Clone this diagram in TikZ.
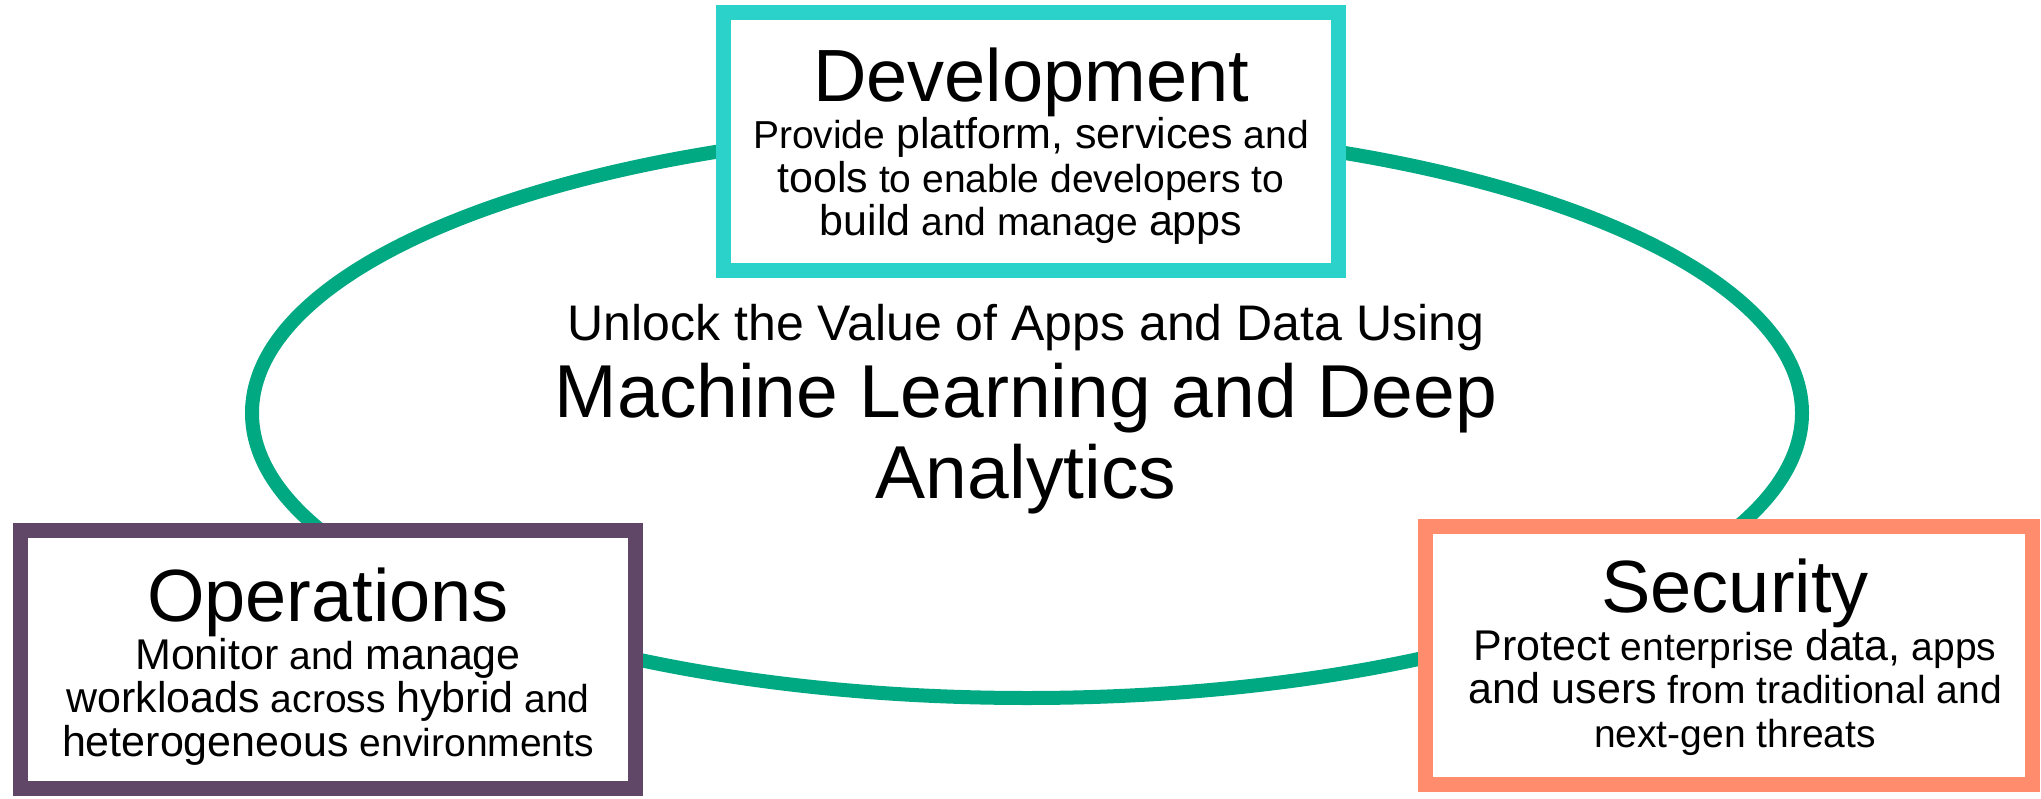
\documentclass[tikz,border=0pt]{standalone}
\usepackage{fontspec}
\setmainfont{Liberation Sans}
\usetikzlibrary{positioning}

\definecolor{ringcol}{HTML}{01A982}
\definecolor{devcol}{HTML}{2AD2C9}
\definecolor{opscol}{HTML}{614767}
\definecolor{seccol}{HTML}{FF8D6D}

\newcommand{\keyw}[1]{{\fontsize{43}{43.5}\selectfont #1}}

\tikzset{
	ring/.style={draw=ringcol, line width=14pt},
	stage/.style={draw, line width=15pt, fill=white, inner sep=0pt, minimum width=615pt, minimum height=258pt},
	headline/.style={font=\fontsize{74}{80}\selectfont, anchor=base, inner sep=0pt},
	blurb/.style={font=\fontsize{39}{43.5}\selectfont, align=center, anchor=base, inner sep=0pt},
	tagline/.style={font=\fontsize{50}{55}\selectfont, anchor=base, inner sep=0pt},
	theme/.style={font=\fontsize{75}{80.5}\selectfont, align=center, anchor=base, inner sep=0pt},
}

\begin{document}
\begin{tikzpicture}[x=1pt,y=-1pt]
	\useasboundingbox (0,0) rectangle (2041,799);
	% the ring goes first, the boxes hide it
	\draw[ring] (1027,413) ellipse [x radius=775, y radius=285];
	\node[stage, draw=devcol] (dev) at (1031,142) {};
	\node[stage, draw=opscol] (ops) at (328,659.5) {};
	\node[stage, draw=seccol, minimum width=607pt] (sec) at (1729,655.5) {};
	% Development (multi-line texts sit on their last line)
	\node[headline] (devT) at (1031,102) {Development};
	\node[blurb] (devB) at (1031,236) {Provide \keyw{platform, services} and\\\keyw{tools} to enable developers to\\\keyw{build} and manage \keyw{apps}};
	% Operations
	\node[headline] (opsT) at (328,621) {Operations};
	\node[blurb] (opsB) at (328,756) {\keyw{Monitor} and \keyw{manage}\\\keyw{workloads} across \keyw{hybrid} and\\\keyw{heterogeneous} environments};
	% Security
	\node[headline] (secT) at (1735,612) {Security};
	\node[blurb] (secB) at (1735,747) {\keyw{Protect} enterprise \keyw{data,} apps\\\keyw{and users} from traditional and\\next-gen threats};
	% centre
	\node[tagline] (tag) at (1026,340) {Unlock the Value of Apps and Data Using};
	\node[theme] (theme) at (1026,498) {Machine Learning and Deep\\Analytics};
\end{tikzpicture}
\end{document}
